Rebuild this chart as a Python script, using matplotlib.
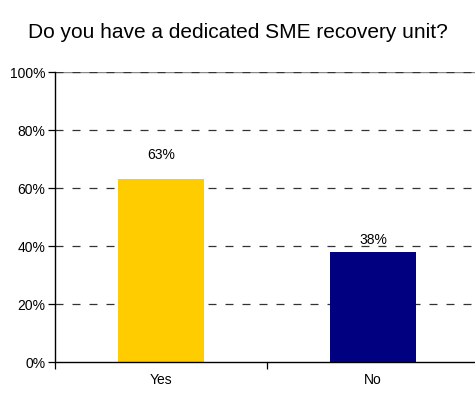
import matplotlib
matplotlib.use("Agg")
import matplotlib.pyplot as plt
from matplotlib.ticker import FixedLocator, NullFormatter

plt.rcParams['font.family'] = ['Liberation Sans', 'DejaVu Sans']

title = "Do you have a dedicated SME recovery unit?"
categories = ["Yes", "No"]
values = [63, 38]
bar_colors = ["#FFCC00", "#000080"]
y_ticks = [0, 20, 40, 60, 80, 100]
y_tick_labels = ["0%", "20%", "40%", "60%", "80%", "100%"]

W, H = 475, 393
fig = plt.figure(figsize=(W / 100, H / 100), dpi=100)
ax = fig.add_axes([55 / W, 31 / H, 424 / W, 290 / H])

x = list(range(len(categories)))

# dashed gridlines behind the bars
for yv in y_ticks[1:]:
    if yv == 100:
        ax.axhline(yv, color="#888888", lw=1.0, zorder=0.5)
    ax.axhline(yv, color="#333333", lw=0.9, dashes=(6.4, 7.2), zorder=1)

ax.bar(x, values, width=0.406, color=bar_colors, zorder=2)

# value labels above bars
label_offsets = [24, 12]
for xi, v, off in zip(x, values, label_offsets):
    ax.annotate(f"{v}%", (xi, v), xytext=(0, off), textcoords="offset pixels",
                ha="center", va="center", fontsize=10, color="#000000", zorder=3)

ax.set_xlim(-0.5, 1.5)
ax.set_ylim(0, 100)

ax.set_yticks(y_ticks)
ax.set_yticklabels(y_tick_labels, fontsize=10)
ax.tick_params(axis="y", direction="out", length=5, width=0.9, pad=2, colors="#000000")

# category boundary ticks, labels in the middle
ax.xaxis.set_major_locator(FixedLocator([-0.5, 0.5, 1.5]))
ax.xaxis.set_major_formatter(NullFormatter())
ax.xaxis.set_minor_locator(FixedLocator(x))
ax.set_xticklabels(categories, minor=True, fontsize=10)
ax.tick_params(axis="x", which="major", direction="out", length=5, width=0.9)
ax.tick_params(axis="x", which="minor", length=0, pad=8)

for side in ("top", "right"):
    ax.spines[side].set_visible(False)
for side in ("left", "bottom"):
    ax.spines[side].set_color("#000000")
    ax.spines[side].set_linewidth(1.0)

fig.text(0.5, 1 - 32 / H, title, ha="center", va="center", fontsize=15)

fig.savefig("out.png", dpi=100)
